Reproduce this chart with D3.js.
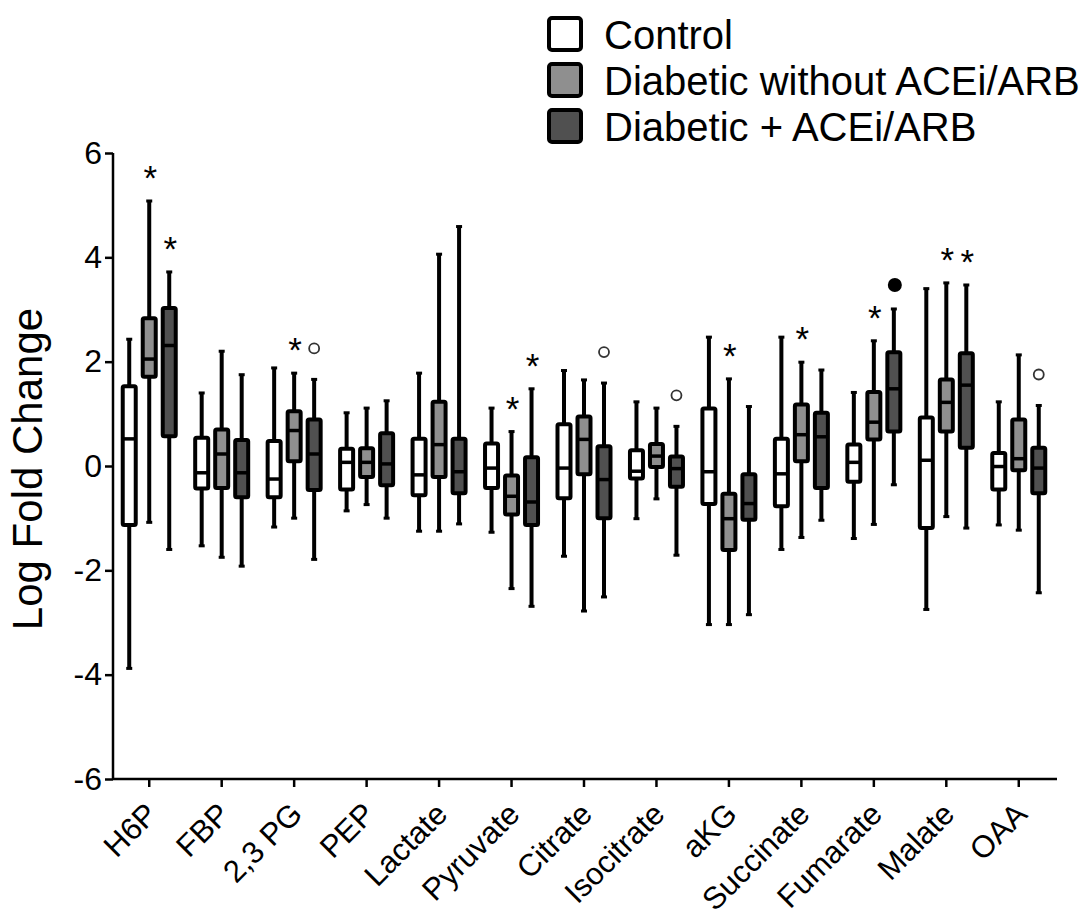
<!DOCTYPE html>
<html>
<head>
<meta charset="utf-8">
<script src="https://cdn.jsdelivr.net/npm/d3@7"></script>
<style>
  body { margin: 0; background: #fff; }
  svg { display: block; font-family: "Liberation Sans", Arial, Helvetica, sans-serif; }
</style>
</head>
<body>
<div id="chart"></div>
<script>
// categories along the x axis
const metabolites = ["H6P", "FBP", "2,3 PG", "PEP", "Lactate", "Pyruvate", "Citrate",
    "Isocitrate", "aKG", "Succinate", "Fumarate", "Malate", "OAA"];
const groups = ["Control", "Diabetic without ACEi/ARB", "Diabetic + ACEi/ARB"];
const yTicks = [-6, -4, -2, 0, 2, 4, 6];

// [whisker low, q1, median, q3, whisker high] per metabolite
const controlStats = [
    [-3.88, -1.13, 0.52, 1.53, 2.43],
    [-1.53, -0.43, -0.13, 0.54, 1.40],
    [-1.17, -0.60, -0.25, 0.48, 1.88],
    [-0.86, -0.45, 0.07, 0.33, 1.02],
    [-1.25, -0.56, -0.17, 0.52, 1.78],
    [-1.27, -0.42, -0.04, 0.43, 1.11],
    [-1.73, -0.62, -0.04, 0.80, 1.83],
    [-1.01, -0.24, -0.10, 0.30, 1.23],
    [-3.04, -0.73, -0.11, 1.10, 2.47],
    [-1.60, -0.77, -0.15, 0.52, 2.47],
    [-1.39, -0.30, 0.07, 0.41, 1.41],
    [-2.75, -1.19, 0.11, 0.93, 3.40],
    [-1.13, -0.45, -0.01, 0.25, 1.23]
];
const diabeticStats = [
    [-1.08, 1.71, 2.05, 2.83, 5.08],
    [-1.75, -0.42, 0.23, 0.70, 2.20],
    [-1.00, 0.09, 0.68, 1.05, 1.78],
    [-0.74, -0.21, 0.07, 0.34, 1.11],
    [-1.25, -0.21, 0.41, 1.23, 4.06],
    [-2.35, -0.93, -0.58, -0.18, 0.66],
    [-2.78, -0.16, 0.51, 0.95, 1.65],
    [-0.63, -0.02, 0.19, 0.42, 1.11],
    [-3.04, -1.61, -1.01, -0.53, 1.67],
    [-1.37, 0.09, 0.60, 1.18, 1.99],
    [-1.12, 0.51, 0.84, 1.42, 2.40],
    [-0.97, 0.66, 1.22, 1.66, 3.51],
    [-1.23, -0.08, 0.14, 0.89, 2.13]
];
const aceStats = [
    [-1.60, 0.57, 2.31, 3.03, 3.72],
    [-1.92, -0.60, -0.13, 0.50, 1.75],
    [-1.79, -0.46, 0.23, 0.89, 1.66],
    [-1.00, -0.37, 0.04, 0.63, 1.25],
    [-1.11, -0.52, -0.11, 0.52, 4.59],
    [-2.69, -1.13, -0.69, 0.17, 1.48],
    [-2.51, -1.00, -0.26, 0.38, 1.59],
    [-1.71, -0.40, -0.05, 0.18, 0.76],
    [-2.85, -1.03, -0.72, -0.16, 1.14],
    [-1.04, -0.42, 0.56, 1.02, 1.84],
    [-0.36, 0.66, 1.48, 2.18, 3.01],
    [-1.19, 0.35, 1.55, 2.16, 3.47],
    [-2.43, -0.52, -0.04, 0.35, 1.16]
];
const groupStats = [controlStats, diabeticStats, aceStats];
const groupFills = ["#ffffff", "#8f8f8f", "#505050"];

// significance marks: [metabolite, group index, symbol]
const marks = [
    ["H6P", 1, "star"], ["H6P", 2, "star"],
    ["2,3 PG", 1, "star"], ["2,3 PG", 2, "open"],
    ["Pyruvate", 1, "star"], ["Pyruvate", 2, "star"],
    ["Citrate", 2, "open"], ["Isocitrate", 2, "open"],
    ["aKG", 1, "star"], ["Succinate", 1, "star"],
    ["Fumarate", 1, "star"], ["Fumarate", 2, "filled"],
    ["Malate", 1, "star"], ["Malate", 2, "star"],
    ["OAA", 2, "open"]
];

const width = 1081, height = 918;
const svg = d3.select("#chart").append("svg")
    .attr("width", width)
    .attr("height", height);

const x = d3.scaleBand().domain(metabolites).range([113, 1055]).padding(0);
const y = d3.scaleLinear().domain([-6, 6]).range([779, 153]);
const offset = d3.scalePoint().domain([0, 1, 2]).range([-20, 20]);
const boxW = 13;

// y axis
const yAxis = svg.append("g")
    .attr("transform", "translate(113,0)")
    .call(d3.axisLeft(y).tickValues(yTicks).tickSize(8).tickPadding(3).tickFormat(d3.format("d")));
yAxis.select(".domain").attr("stroke-width", 2.5).attr("d", `M0,${y(6)}V${y(-6)}`);
yAxis.selectAll(".tick line").attr("stroke-width", 2.5);
yAxis.selectAll(".tick text").style("font-size", "32px").attr("fill", "#000")
    .text(d => d < 0 ? "-" + Math.abs(d) : d);

// x axis
const xAxis = svg.append("g")
    .attr("transform", "translate(0,779)")
    .call(d3.axisBottom(x).tickSize(8).tickSizeOuter(0));
xAxis.select(".domain").attr("stroke-width", 2.5).attr("d", "M113,0H1057");
xAxis.selectAll(".tick line").attr("stroke-width", 2.5);
xAxis.selectAll(".tick text")
    .style("font-size", "31px")
    .attr("fill", "#000")
    .attr("text-anchor", "end")
    .attr("dy", null)
    .attr("y", 0)
    .attr("transform", "translate(10,37) rotate(-45)");

// y axis title
svg.append("text")
    .attr("transform", "translate(42,469) rotate(-90)")
    .attr("text-anchor", "middle")
    .style("font-size", "42px")
    .text("Log Fold Change");

// box plots
const plot = svg.append("g");
groupStats.forEach((stats, gi) => {
    const g = plot.append("g");
    const items = g.selectAll("g.box")
        .data(stats.map((s, i) => ({ name: metabolites[i], s: s })))
        .join("g")
        .attr("class", "box")
        .attr("transform", d => `translate(${x(d.name) + x.bandwidth() / 2 + offset(gi)},0)`);
    items.append("line")
        .attr("y1", d => y(d.s[0]))
        .attr("y2", d => y(d.s[4]))
        .attr("stroke", "#000")
        .attr("stroke-width", 4);
    items.append("rect")
        .attr("x", -3)
        .attr("width", 6)
        .attr("y", d => y(d.s[4]) - 1.5)
        .attr("height", 3);
    items.append("rect")
        .attr("x", -3)
        .attr("width", 6)
        .attr("y", d => y(d.s[0]) - 1.5)
        .attr("height", 3);
    items.append("rect")
        .attr("x", -boxW / 2)
        .attr("width", boxW)
        .attr("y", d => y(d.s[3]))
        .attr("height", d => y(d.s[1]) - y(d.s[3]))
        .attr("rx", 1.5)
        .attr("fill", groupFills[gi])
        .attr("stroke", "#000")
        .attr("stroke-width", 4);
    items.append("line")
        .attr("x1", -boxW / 2)
        .attr("x2", boxW / 2)
        .attr("y1", d => y(d.s[2]))
        .attr("y2", d => y(d.s[2]))
        .attr("stroke", "#000")
        .attr("stroke-width", 3.5);
});

// significance marks above the whiskers
const markG = svg.append("g");
marks.forEach(([name, gi, sym]) => {
    const i = metabolites.indexOf(name);
    const cx = x(name) + x.bandwidth() / 2 + offset(gi);
    const top = y(groupStats[gi][i][4]);
    if (sym === "star") {
        markG.append("text")
            .attr("x", cx + 1)
            .attr("y", top - 31 + 20)
            .attr("text-anchor", "middle")
            .style("font-size", "35px")
            .text("*");
    } else if (sym === "open") {
        markG.append("circle")
            .attr("cx", cx)
            .attr("cy", top - 31)
            .attr("r", 5)
            .attr("fill", "none")
            .attr("stroke", "#333")
            .attr("stroke-width", 1.8);
    } else {
        markG.append("circle")
            .attr("cx", cx + 1)
            .attr("cy", top - 24)
            .attr("r", 7);
    }
});

// legend
const legend = svg.append("g").attr("transform", "translate(549,18)");
const rows = legend.selectAll("g")
    .data(groups)
    .join("g")
    .attr("transform", (d, i) => `translate(0,${i * 46})`);
rows.append("rect")
    .attr("width", 32)
    .attr("height", 32)
    .attr("rx", 3)
    .attr("fill", (d, i) => groupFills[i])
    .attr("stroke", "#000")
    .attr("stroke-width", 4);
rows.append("text")
    .attr("x", 55)
    .attr("y", 31)
    .style("font-size", "40px")
    .text(d => d);
</script>
</body>
</html>
